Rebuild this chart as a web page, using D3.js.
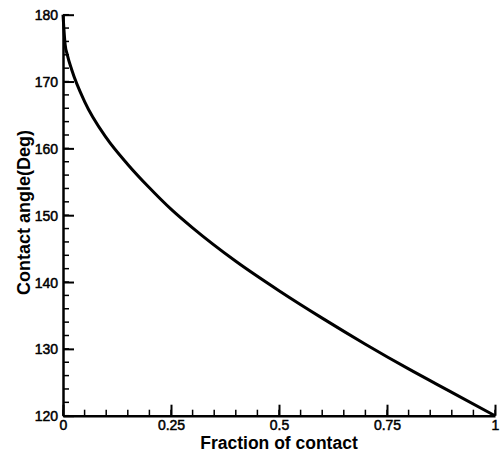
<!DOCTYPE html>
<html><head><meta charset="utf-8">
<script src="https://cdn.jsdelivr.net/npm/d3@7"></script>
<style>body{margin:0;background:#fff}svg{display:block}</style>
</head><body>
<svg id="c" width="500" height="452"></svg>
<script>
// values (estimated, rounded)
const fraction = [0,0.005,0.01,0.02,0.05,0.1,0.15,0.2,0.25,0.3,0.4,0.5,0.6,0.7,0.8,0.9,1];
const angle    = [180,175.5,174.0,171.8,167.0,161.6,157.6,154.1,150.9,148.1,143.1,138.7,134.6,130.7,127.0,123.5,120];
const xTicks = [0,0.25,0.5,0.75,1];
const xTickLabels = ["0","0.25","0.5","0.75","1"];
const yTicks = [120,130,140,150,160,170,180];
const xTitle = "Fraction of contact";
const yTitle = "Contact angle(Deg)";

const svg = d3.select("#c");
const L=63,R=495,T=14.7,B=415.7;
const x = d3.scaleLinear().domain([0,1]).range([L,R]);
const y = d3.scaleLinear().domain([120,180]).range([B,T]);
const font = "Arial, 'Liberation Sans', sans-serif";

// minor ticks
const g = svg.append("g");
d3.range(0,1.0001,0.05).forEach(v=>{
  g.append("line").attr("x1",x(v)).attr("x2",x(v)).attr("y1",B).attr("y2",B-6).attr("stroke","#000").attr("stroke-width",1.5);
});
d3.range(120,180.001,2).forEach(v=>{
  g.append("line").attr("x1",L).attr("x2",L+6).attr("y1",y(v)).attr("y2",y(v)).attr("stroke","#000").attr("stroke-width",1.5);
});

const xAxis = d3.axisBottom(x).tickValues(xTicks).tickFormat((d,i)=>xTickLabels[i]).tickSizeInner(-11).tickSizeOuter(0).tickPadding(14.3);
const gx = svg.append("g").attr("transform",`translate(0,${B})`).call(xAxis);
const yAxis = d3.axisLeft(y).tickValues(yTicks).tickFormat(d3.format("d")).tickSizeInner(-11).tickSizeOuter(0).tickPadding(5);
const gy = svg.append("g").attr("transform",`translate(${L},0)`).call(yAxis);
[gx,gy].forEach(a=>{
  a.select(".domain").attr("stroke","#000").attr("stroke-width",2.5);
  a.selectAll(".tick line").attr("stroke","#000").attr("stroke-width",2);
  a.selectAll(".tick text").attr("fill","#000").attr("stroke","#000").attr("stroke-width",0.5)
    .attr("font-family",font).attr("font-size",14);
});
gx.selectAll(".tick text").attr("dy","0");
gy.selectAll(".tick text").attr("dy","0.36em");

const line = d3.line().x((d,i)=>x(fraction[i])).y(d=>y(d)).curve(d3.curveMonotoneX);
svg.append("path").datum(angle).attr("d",line).attr("fill","none").attr("stroke","#000").attr("stroke-width",3);

svg.append("text").attr("x",279).attr("y",449).attr("text-anchor","middle").attr("font-family",font).attr("font-weight","bold").attr("font-size",17.5).text(xTitle);
svg.append("text").attr("transform","translate(30,212.5) rotate(-90)").attr("text-anchor","middle").attr("font-family",font).attr("font-weight","bold").attr("font-size",18).text(yTitle);
</script>
</body></html>
